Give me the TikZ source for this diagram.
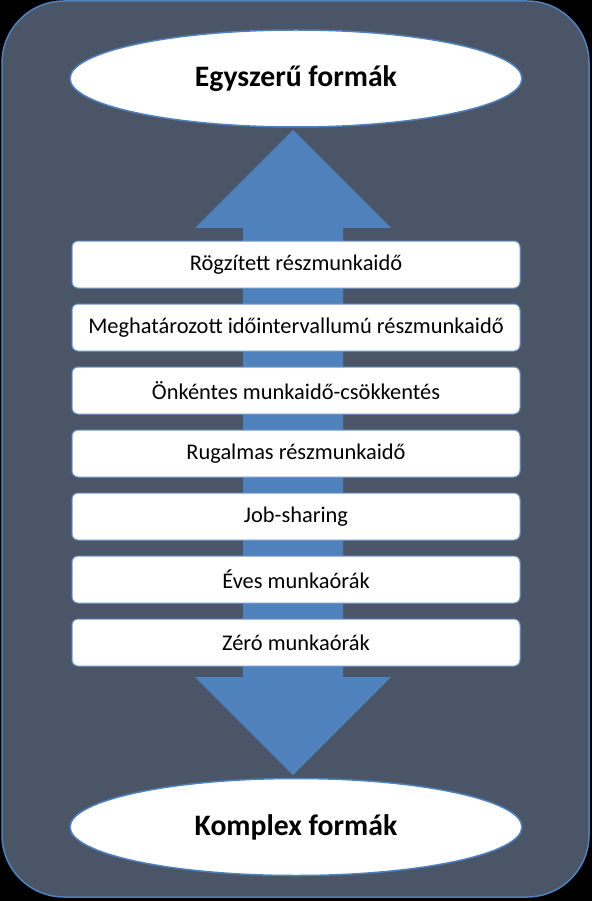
\documentclass[tikz,border=0pt]{standalone}
\usepackage{fontspec}
\setmainfont{Carlito}
\usetikzlibrary{shapes.geometric}
\definecolor{slate}{RGB}{74,86,104}
\definecolor{arrowblue}{RGB}{79,129,189}
\definecolor{edgeblue}{RGB}{110,150,205}
\tikzset{
  itembox/.style={draw=edgeblue, line width=1pt, fill=white, rounded corners=6pt,
    minimum width=448pt, minimum height=47pt, inner sep=0pt,
    font=\fontsize{22.4}{27}\selectfont, text=black},
  endpoint/.style={ellipse, draw=arrowblue, line width=1.5pt, fill=white,
    minimum width=452pt, minimum height=97pt, inner sep=0pt,
    font=\fontsize{29.7}{34}\selectfont\bfseries, text=black}
}
\begin{document}
\begin{tikzpicture}[x=1pt,y=-1pt]
\useasboundingbox (0,0) rectangle (592,901);
\fill[black] (0,0) rectangle (592,901);
\draw[fill=slate, draw=arrowblue, line width=1.5pt, rounded corners=62pt] (2,1) rectangle (589,897);
% double-headed arrow
\fill[arrowblue] (293,130) -- (391,228) -- (343,228) -- (343,677) -- (391,677)
  -- (293,775) -- (195,677) -- (243,677) -- (243,228) -- (195,228) -- cycle;
\node[endpoint] (top) at (296,78.5) {Egyszerű formák};
\node[endpoint] (bot) at (296,827) {Komplex formák};
\node[itembox] (b1) at (296,264.5) {Rögzített részmunkaidő};
\node[itembox] (b2) at (296,327.5) {Meghatározott időintervallumú részmunkaidő};
\node[itembox] (b3) at (296,390.5) {Önkéntes munkaidő-csökkentés};
\node[itembox] (b4) at (296,453.5) {Rugalmas részmunkaidő};
\node[itembox] (b5) at (296,516.5) {Job-sharing};
\node[itembox] (b6) at (296,579.5) {Éves munkaórák};
\node[itembox] (b7) at (296,642.5) {Zéró munkaórák};
\end{tikzpicture}
\end{document}
